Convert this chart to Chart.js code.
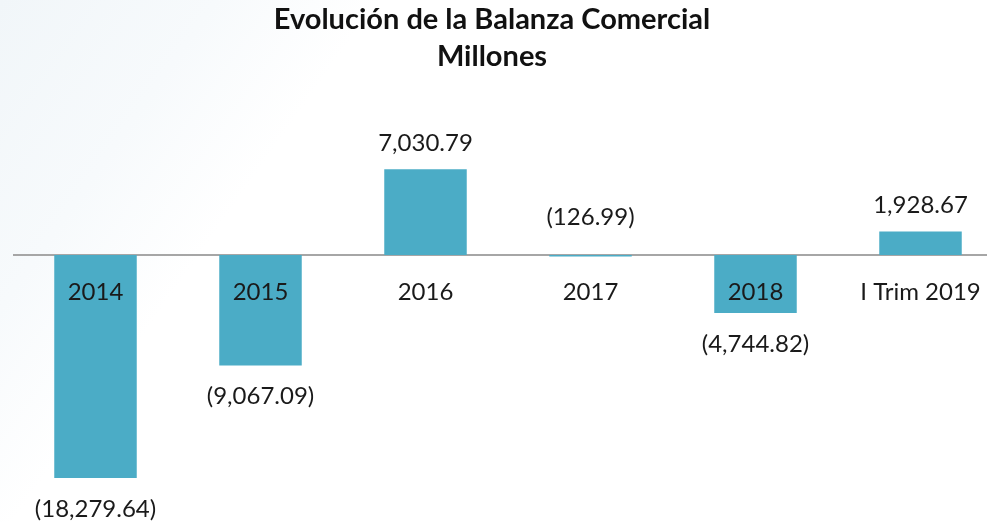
<!DOCTYPE html>
<html>
<head>
<meta charset="utf-8">
<script src="https://cdn.jsdelivr.net/npm/chart.js@4"></script>
<style>
  html, body { margin: 0; padding: 0; overflow: hidden; }
  body {
    width: 987px; height: 522px;
    background: linear-gradient(125deg, #f1f6f9 0%, #f7fafc 16%, #ffffff 28%);
  }
  #wrap { position: absolute; left: 0; top: 0; width: 1010px; height: 522px; }
</style>
</head>
<body>
<div id="wrap"><canvas id="balanza-chart" width="1010" height="522"></canvas></div>
<script>
var categories = ["2014", "2015", "2016", "2017", "2018", "I Trim 2019"];
var balanza = [-18279.64, -9067.09, 7030.79, -126.99, -4744.82, 1928.67];
var titleLines = ["Evolución de la Balanza Comercial", "Millones"];

var fmt = function(v) {
  var s = Math.abs(v).toLocaleString("en-US", { minimumFractionDigits: 2, maximumFractionDigits: 2 });
  return v < 0 ? "(" + s + ")" : s;
};

var labelsPlugin = {
  id: "labels",
  beforeDatasetsDraw: function(chart) {
    var ctx = chart.ctx;
    var area = chart.chartArea;
    var y0 = chart.scales.y.getPixelForValue(0);
    ctx.save();
    ctx.strokeStyle = "#a6a6a6";
    ctx.lineWidth = 2;
    ctx.beginPath();
    ctx.moveTo(area.left, y0);
    ctx.lineTo(chart.width, y0);
    ctx.stroke();
    ctx.restore();
  },
  afterDatasetsDraw: function(chart) {
    var ctx = chart.ctx;
    var y0 = chart.scales.y.getPixelForValue(0);
    var meta = chart.getDatasetMeta(0);
    ctx.save();
    ctx.fillStyle = "#111";
    ctx.textAlign = "center";
    ctx.textBaseline = "middle";
    ctx.font = "bold 29px Lato";
    ctx.fillText(titleLines[0], 492, 20);
    ctx.fillText(titleLines[1], 492, 57);
    ctx.font = "24px Lato";
    ctx.fillStyle = "#1a1a1a";
    meta.data.forEach(function(bar, i) {
      var v = balanza[i];
      ctx.fillText(categories[i], bar.x, y0 + 37);
      var ly;
      if (Math.abs(bar.y - y0) < 20) {
        ly = y0 - 38;
      } else if (v < 0) {
        ly = bar.y + 31;
      } else {
        ly = bar.y - 26;
      }
      ctx.fillText(fmt(v), bar.x, ly);
    });
    ctx.restore();
  }
};

var ctx = document.getElementById("balanza-chart").getContext("2d");
var chart = new Chart(ctx, {
  type: "bar",
  data: {
    labels: categories,
    datasets: [{
      label: "Balanza Comercial",
      data: balanza,
      backgroundColor: "#4bacc6",
      borderWidth: 0,
      barPercentage: 0.5,
      categoryPercentage: 1
    }]
  },
  options: {
    responsive: false,
    animation: false,
    layout: { padding: { left: 13, right: 7, top: 133, bottom: 23 } },
    plugins: {
      legend: { display: false },
      title: { display: false },
      tooltip: { enabled: false }
    },
    scales: {
      x: { display: false },
      y: { display: false, min: -20000, max: 10000 }
    }
  },
  plugins: [labelsPlugin]
});
</script>
</body>
</html>
